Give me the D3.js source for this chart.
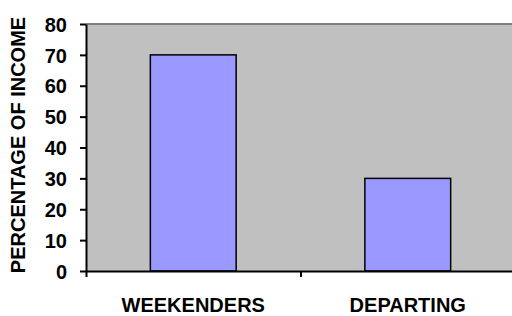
<!DOCTYPE html>
<html>
<head>
<meta charset="utf-8">
<script src="https://cdn.jsdelivr.net/npm/d3@7"></script>
<style>
  body { margin: 0; background: #fff; }
  svg text { font-family: Arial, "Liberation Sans", sans-serif; font-weight: bold; fill: #000; }
</style>
</head>
<body>
<div id="chart"></div>
<script>
const categories = ['WEEKENDERS', 'DEPARTING']
const values = [70, 30]
const yTicks = [0, 10, 20, 30, 40, 50, 60, 70, 80]

const width = 512
const height = 316
const plotLeft = 86
const plotTop = 24
const plotBottom = 271
const plotRight = 515

const svg = d3.select('#chart')
    .append('svg')
    .attr('width', width)
    .attr('height', height)

const x = d3.scaleBand().domain(categories).range([plotLeft, plotRight]).paddingInner(0.6).paddingOuter(0.3)
const xEdge = d3.scaleLinear().domain([0, categories.length]).range([plotLeft, plotRight])
const y = d3.scaleLinear().domain([0, 80]).range([plotBottom, plotTop])

// plot area
svg.append('rect')
    .attr('x', plotLeft)
    .attr('y', plotTop)
    .attr('width', plotRight - plotLeft)
    .attr('height', plotBottom - plotTop)
    .style('fill', '#c0c0c0')
svg.append('line')
    .attr('x1', plotLeft).attr('x2', plotRight)
    .attr('y1', plotTop).attr('y2', plotTop)
    .style('stroke', '#808080')
    .style('stroke-width', 2)

svg.selectAll('rect.bar')
    .data(values)
    .enter()
    .append('rect')
    .attr('class', 'bar')
    .attr('x', (d, i) => x(categories[i]))
    .attr('y', (d) => y(d))
    .attr('width', x.bandwidth())
    .attr('height', (d) => y(0) - y(d))
    .style('fill', '#9999ff')
    .style('stroke', '#000')
    .style('stroke-width', 1.5)

const yAxis = d3.axisLeft(y).tickValues(yTicks).tickSize(6).tickSizeOuter(0).tickPadding(13)
const gy = svg.append('g')
    .attr('transform', `translate(${plotLeft}, 0)`)
    .call(yAxis)
gy.selectAll('line').style('stroke', '#000').style('stroke-width', 2)
gy.select('.domain').style('stroke', '#000').style('stroke-width', 2)
gy.selectAll('text').attr('dy', '0.36em').style('font-size', '20px').style('font-family', 'Arial, "Liberation Sans", sans-serif').style('font-weight', 'bold')

const xAxis = d3.axisBottom(xEdge).tickValues([0, 1, 2]).tickSize(6).tickSizeOuter(0).tickFormat('')
const gx = svg.append('g')
    .attr('transform', `translate(0, ${plotBottom})`)
    .call(xAxis)
gx.selectAll('line').style('stroke', '#000').style('stroke-width', 2)
gx.select('.domain').style('stroke', '#000').style('stroke-width', 2)

svg.selectAll('text.cat')
    .data(categories)
    .enter()
    .append('text')
    .attr('class', 'cat')
    .attr('x', (d) => x(d) + x.bandwidth() / 2)
    .attr('y', 312)
    .attr('text-anchor', 'middle')
    .style('font-size', '20px')
    .text((d) => d)

svg.append('text')
    .attr('transform', `translate(25, 145) rotate(-90)`)
    .attr('text-anchor', 'middle')
    .style('font-size', '20px')
    .text('PERCENTAGE OF INCOME')
</script>
</body>
</html>
